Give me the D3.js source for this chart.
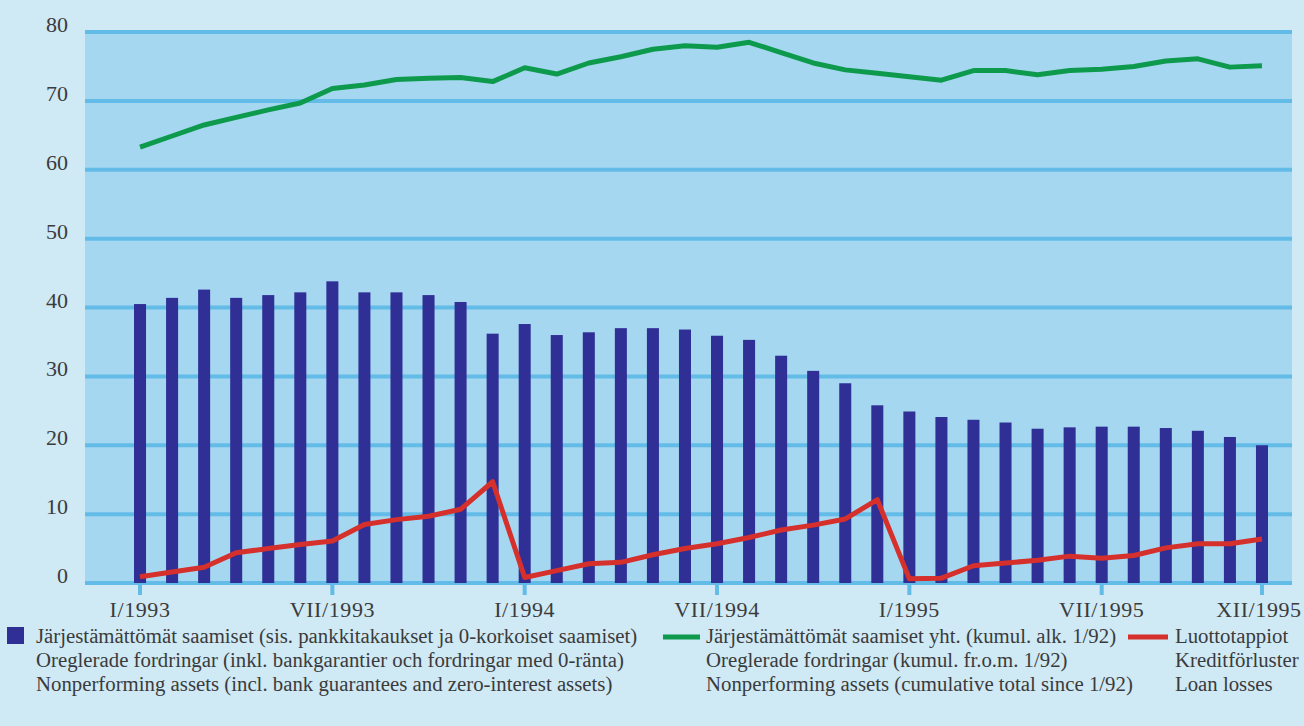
<!DOCTYPE html>
<html>
<head>
<meta charset="utf-8">
<script src="https://cdn.jsdelivr.net/npm/d3@7/dist/d3.min.js"></script>
<style>
  html, body { margin: 0; padding: 0; background: #cfe9f5; }
  svg { display: block; }
  text { font-family: "Liberation Serif", "DejaVu Serif", serif; fill: #3b3b3b; }
</style>
</head>
<body>
<svg id="chart" width="1304" height="726"></svg>
<script>
// Monthly observations, January 1993 – December 1995
const months = [
  "I/1993","II/1993","III/1993","IV/1993","V/1993","VI/1993",
  "VII/1993","VIII/1993","IX/1993","X/1993","XI/1993","XII/1993",
  "I/1994","II/1994","III/1994","IV/1994","V/1994","VI/1994",
  "VII/1994","VIII/1994","IX/1994","X/1994","XI/1994","XII/1994",
  "I/1995","II/1995","III/1995","IV/1995","V/1995","VI/1995",
  "VII/1995","VIII/1995","IX/1995","X/1995","XI/1995","XII/1995"
];

// Nonperforming assets (incl. bank guarantees and zero-interest assets)
const nonperforming = [
  40.5, 41.4, 42.6, 41.4, 41.8, 42.2, 43.8, 42.2, 42.2, 41.8, 40.8, 36.2,
  37.6, 36.0, 36.4, 37.0, 37.0, 36.8, 35.9, 35.3, 33.0, 30.8, 29.0, 25.8,
  24.9, 24.1, 23.7, 23.3, 22.4, 22.6, 22.7, 22.7, 22.5, 22.1, 21.2, 20.0
];

// Nonperforming assets, cumulative total since 1/92
const cumulative = [
  63.3, 64.9, 66.5, 67.6, 68.7, 69.7, 71.8, 72.3, 73.1, 73.3, 73.4, 72.8,
  74.8, 73.9, 75.5, 76.4, 77.5, 78.0, 77.8, 78.5, 77.0, 75.5, 74.5, 74.0,
  73.5, 73.0, 74.4, 74.4, 73.8, 74.4, 74.6, 75.0, 75.8, 76.1, 74.9, 75.1
];

// Loan losses
const loanLosses = [
  0.9, 1.6, 2.3, 4.4, 5.0, 5.6, 6.1, 8.5, 9.2, 9.7, 10.7, 14.7,
  0.8, 1.8, 2.8, 3.0, 4.1, 5.0, 5.7, 6.6, 7.7, 8.4, 9.3, 12.1,
  0.6, 0.7, 2.5, 2.9, 3.3, 3.9, 3.6, 4.0, 5.1, 5.7, 5.7, 6.4
];

const xTickLabels = ["I/1993","VII/1993","I/1994","VII/1994","I/1995","VII/1995","XII/1995"];
const yTickValues = [0, 10, 20, 30, 40, 50, 60, 70, 80];

const legendBars = [
  "Järjestämättömät saamiset (sis. pankkitakaukset ja 0-korkoiset saamiset)",
  "Oreglerade fordringar (inkl. bankgarantier och fordringar med 0-ränta)",
  "Nonperforming assets (incl. bank guarantees and zero-interest assets)"
];
const legendTotal = [
  "Järjestämättömät saamiset yht. (kumul. alk. 1/92)",
  "Oreglerade fordringar (kumul. fr.o.m. 1/92)",
  "Nonperforming assets (cumulative total since 1/92)"
];
const legendLosses = ["Luottotappiot", "Kreditförluster", "Loan losses"];

const COLORS = {
  plot: "#a6d7f1",
  grid: "#62bce7",
  bar: "#2f2f95",
  green: "#0e9a4d",
  red: "#d5302c"
};

const svg = d3.select("#chart");

const plotLeft = 85, plotRight = 1292;

const x = d3.scaleBand()
  .domain(months)
  .range([124, 1278])
  .paddingInner(0.625)
  .paddingOuter(0.3125);

const y = d3.scaleLinear().domain([0, 80]).range([583, 32]);

// plot background
svg.append("rect")
  .attr("x", plotLeft)
  .attr("y", y(80) - 2)
  .attr("width", plotRight - plotLeft)
  .attr("height", y(0) - y(80) + 4)
  .attr("fill", COLORS.plot);

// horizontal gridlines
svg.append("g")
  .selectAll("line")
  .data(yTickValues)
  .join("line")
  .attr("x1", plotLeft)
  .attr("x2", plotRight)
  .attr("y1", d => y(d))
  .attr("y2", d => y(d))
  .attr("stroke", COLORS.grid)
  .attr("stroke-width", 4);

// y axis labels
const yAxis = svg.append("g")
  .attr("transform", `translate(${plotLeft},0)`)
  .call(d3.axisLeft(y).tickValues(yTickValues).tickSize(0).tickPadding(17));
yAxis.select(".domain").remove();
yAxis.selectAll("text")
  .attr("dy", "-0.02em")
  .attr("font-size", 22)
  .attr("font-family", null);

// bars
svg.append("g")
  .selectAll("rect")
  .data(nonperforming)
  .join("rect")
  .attr("x", (d, i) => x(months[i]))
  .attr("width", x.bandwidth())
  .attr("y", d => y(d))
  .attr("height", d => y(0) - y(d))
  .attr("fill", COLORS.bar);

// lines
const line = d3.line()
  .x((d, i) => x(months[i]) + x.bandwidth() / 2)
  .y(d => y(d));

svg.append("path")
  .datum(cumulative)
  .attr("d", line)
  .attr("fill", "none")
  .attr("stroke", COLORS.green)
  .attr("stroke-width", 5)
  .attr("stroke-linejoin", "round");

svg.append("path")
  .datum(loanLosses)
  .attr("d", line)
  .attr("fill", "none")
  .attr("stroke", COLORS.red)
  .attr("stroke-width", 5)
  .attr("stroke-linejoin", "round");

// x axis
const xAxis = svg.append("g")
  .attr("transform", `translate(0,${y(0) + 2})`)
  .call(d3.axisBottom(x).tickValues(xTickLabels).tickSize(10).tickPadding(0));
xAxis.select(".domain").remove();
xAxis.selectAll(".tick line")
  .attr("stroke", COLORS.grid)
  .attr("stroke-width", 4);
xAxis.selectAll(".tick text")
  .attr("y", 32)
  .attr("dy", 0)
  .attr("font-size", 22)
  .attr("letter-spacing", 0.6)
  .attr("font-family", null)
  .attr("dx", (d, i, nodes) => i === nodes.length - 1 ? -3 : 0);

// legend
const legend = svg.append("g").attr("font-size", 20.8);
const rowY = [643, 667, 691];

legend.append("rect")
  .attr("x", 7).attr("y", 627).attr("width", 17).attr("height", 17)
  .attr("fill", COLORS.bar);
legend.selectAll("text.bars")
  .data(legendBars)
  .join("text")
  .attr("class", "bars")
  .attr("x", 36)
  .attr("y", (d, i) => rowY[i])
  .text(d => d);

legend.append("line")
  .attr("x1", 663).attr("x2", 700).attr("y1", 637).attr("y2", 637)
  .attr("stroke", COLORS.green).attr("stroke-width", 5);
legend.selectAll("text.total")
  .data(legendTotal)
  .join("text")
  .attr("class", "total")
  .attr("x", 706)
  .attr("y", (d, i) => rowY[i])
  .text(d => d);

legend.append("line")
  .attr("x1", 1128).attr("x2", 1168).attr("y1", 637).attr("y2", 637)
  .attr("stroke", COLORS.red).attr("stroke-width", 5);
legend.selectAll("text.losses")
  .data(legendLosses)
  .join("text")
  .attr("class", "losses")
  .attr("x", 1175)
  .attr("y", (d, i) => rowY[i])
  .text(d => d);
</script>
</body>
</html>
